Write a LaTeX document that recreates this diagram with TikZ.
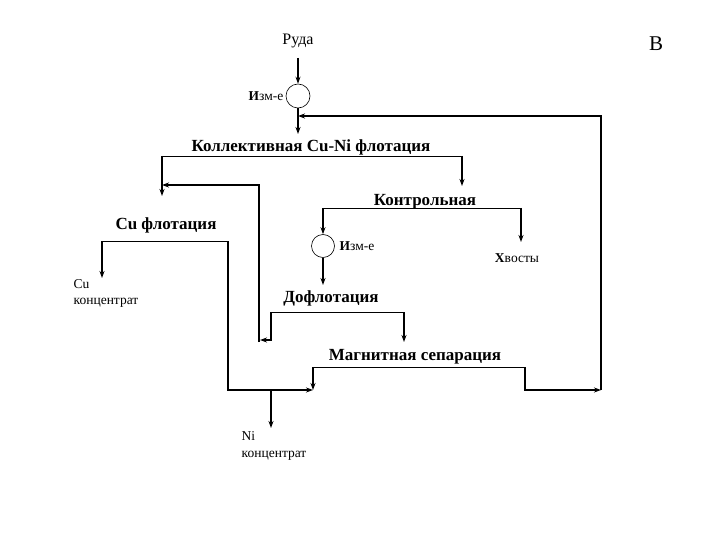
\documentclass[tikz,border=0pt]{standalone}
\usepackage{fontspec}
\setmainfont{Liberation Serif}
\usetikzlibrary{arrows.meta}
\begin{document}
\begin{tikzpicture}[x=1pt,y=-1pt,line width=1.4pt,
  arr/.style={-{Stealth[length=7pt,width=5pt]}},
  big/.style={font=\bfseries\fontsize{17}{18}\selectfont,inner sep=1pt},
  sm/.style={font=\fontsize{13.5}{14}\selectfont,inner sep=1pt},
  thin/.style={line width=0.6pt},
  cir/.style={circle,draw,line width=0.6pt,minimum size=24pt,inner sep=0pt}]
\useasboundingbox (0,0) rectangle (720,540);
\node[sm,font=\fontsize{16}{17}\selectfont] (ore) at (298,41) {Руда};
\node[font=\fontsize{21}{21}\selectfont] (B) at (656,44) {В};
\node[cir] (c1) at (298,96) {};
\node[sm,anchor=east] (iz1) at (285,96) {\textbf{И}зм-е};
\coordinate (o1) at (298,58);
\draw[arr] (o1) -- (c1.north);
\node[big] (kol) at (311,147) {Коллективная Cu-Ni флотация};
\coordinate (k1) at (298,134);
\draw[arr] (c1.south) -- (k1);
\coordinate (kl) at (162,156); \coordinate (kr) at (462,156);
\draw[thin] (kl) -- (kr);
\coordinate (r1) at (601,390); \coordinate (r2) at (601,116); \coordinate (r3) at (298,116);
\draw[arr] (r1) -- (r2) -- (r3);
\node[big] (cuf) at (166,225) {Cu флотация};
\node[big] (kon) at (425,202) {Контрольная};
\coordinate (kla) at (162,196); \coordinate (kra) at (462,186);
\draw[arr] (kl) -- (kla);
\draw[arr] (kr) -- (kra);
\coordinate (v1) at (259,342); \coordinate (v2) at (259,185); \coordinate (v3) at (162,185);
\draw[arr] (v1) -- (v2) -- (v3);
% control
\coordinate (cl) at (323,208); \coordinate (cr) at (521,208);
\draw[thin] (cl) -- (cr);
\node[cir,minimum size=23pt] (c2) at (323,246) {};
\node[sm,anchor=west] (iz2) at (338,246) {\textbf{И}зм-е};
\draw[arr] (cl) -- (c2.north);
\node[sm] (hv) at (517,258) {\textbf{Х}восты};
\coordinate (hva) at (521,242);
\draw[arr] (cr) -- (hva);
% Cu flot
\coordinate (ul) at (102,241); \coordinate (ur) at (228,241);
\draw[thin] (ul) -- (ur);
\coordinate (ula) at (102,278);
\draw[arr] (ul) -- (ula);
\node[sm,anchor=west] (cu) at (72,284) {Cu};
\node[sm,anchor=west] (cuk) at (72,303) {концентрат};
% dofl
\node[big] (dof) at (331,298) {Дофлотация};
\coordinate (c2a) at (323,285);
\draw[arr] (c2.south) -- (c2a);
\coordinate (dl) at (271,312); \coordinate (dr) at (404,312);
\draw[thin] (dl) -- (dr);
\coordinate (dl2) at (271,340); \coordinate (dla) at (260,340);
\draw[arr] (dl) -- (dl2) -- (dla);
\coordinate (dra) at (404,342);
\draw[arr] (dr) -- (dra);
% magnetic
\node[big] (mag) at (415,357) {Магнитная сепарация};
\coordinate (ml) at (313,367); \coordinate (mr) at (525,367);
\draw[thin] (ml) -- (mr);
\coordinate (mla) at (313,390); \coordinate (mr2) at (525,390);
\draw[arr] (ml) -- (mla);
\draw[arr] (mr) -- (mr2) -- (r1);
\coordinate (u2) at (228,390);
\draw[arr] (ur) -- (u2) -- (mla);
\coordinate (n0) at (271,390); \coordinate (na) at (271,428);
\draw[arr] (n0) -- (na);
\node[sm,anchor=west] (ni) at (240,436) {Ni};
\node[sm,anchor=west] (nik) at (240,456) {концентрат};
\end{tikzpicture}
\end{document}
